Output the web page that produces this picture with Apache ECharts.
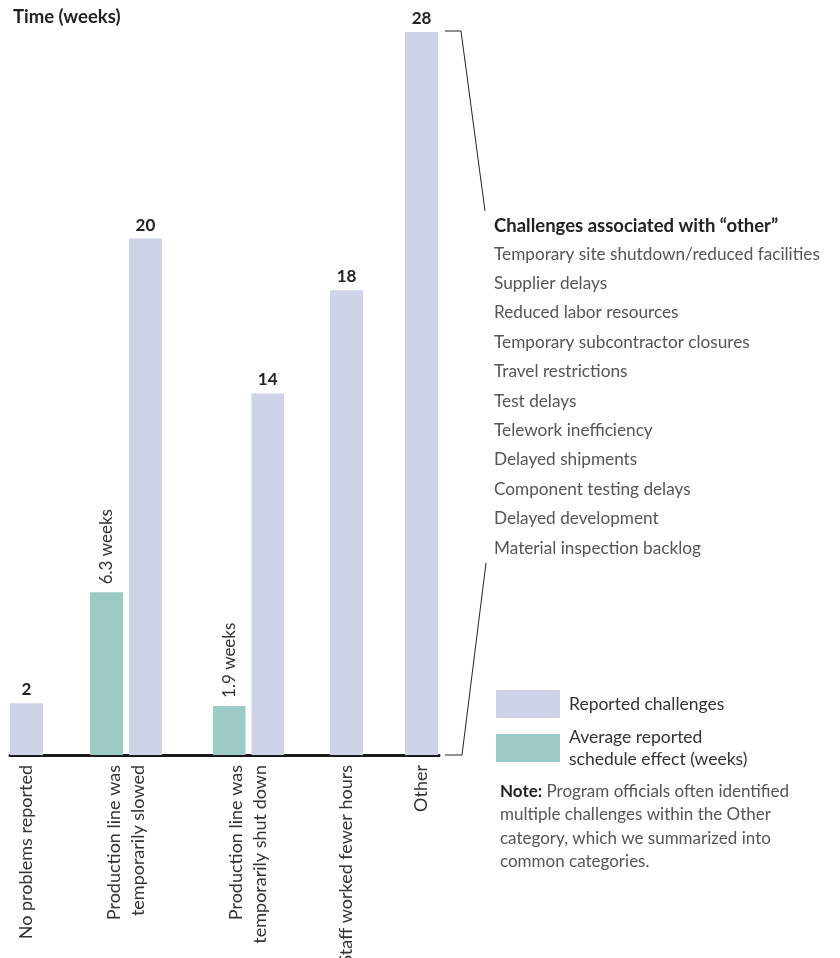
<!DOCTYPE html>
<html>
<head>
<meta charset="utf-8">
<script src="https://cdn.jsdelivr.net/npm/echarts@6/dist/echarts.min.js"></script>
<style>html,body{margin:0;padding:0;background:#fff;}#c{width:840px;height:958px;}</style>
</head>
<body>
<div id="c"></div>
<script>
const categories = ['No problems reported', 'Production line was\ntemporarily slowed', 'Production line was\ntemporarily shut down', 'Staff worked fewer hours', 'Other'];
const reported = [2, 20, 14, 18, 28];
const avgEffect = [null, 6.3, 1.9, null, null];
const seriesNames = ['Reported challenges', 'Average reported\nschedule effect (weeks)'];
const otherTitle = 'Challenges associated with \u201cother\u201d';
const otherChallenges = ['Temporary site shutdown/reduced facilities', 'Supplier delays', 'Reduced labor resources', 'Temporary subcontractor closures', 'Travel restrictions', 'Test delays', 'Telework inefficiency', 'Delayed shipments', 'Component testing delays', 'Delayed development', 'Material inspection backlog'];
const noteLines = ['Program officials often identified', 'multiple challenges within the Other', 'category, which we summarized into', 'common categories.'];
const yMax = 28;

const FONT = 'Lato';
const LAV = '#CED3E7';
const TEAL = '#9CCBC6';
const gridLayout = [
  {left: 10, width: 33},
  {left: 90, width: 72},
  {left: 213, width: 71},
  {left: 330, width: 33},
  {left: 405, width: 33}
];
const TOP = 32, BOTTOM = 203;

const grid = [], xAxis = [], yAxis = [], series = [];
categories.forEach((c, i) => {
  grid.push({left: gridLayout[i].left, width: gridLayout[i].width, top: TOP, bottom: BOTTOM, containLabel: false, outerBoundsMode: 'none'});
  xAxis.push({gridIndex: i, type: 'category', data: [c], axisLine: {show: false}, axisTick: {show: false},
    axisLabel: {rotate: 90, margin: 10, fontFamily: FONT, fontSize: 18, color: '#333', lineHeight: 24}});
  yAxis.push({gridIndex: i, type: 'value', min: 0, max: yMax, show: false});
  if (avgEffect[i] != null) {
    series.push({type: 'bar', name: seriesNames[1], xAxisIndex: i, yAxisIndex: i, data: [avgEffect[i]],
      barWidth: 33, barGap: '18%', itemStyle: {color: TEAL}, silent: true,
      label: {show: true, position: 'top', rotate: 90, align: 'left', verticalAlign: 'middle', distance: 8,
        formatter: p => p.value + ' weeks', fontFamily: FONT, fontSize: 17, color: '#333'}});
  }
  series.push({type: 'bar', name: seriesNames[0], xAxisIndex: i, yAxisIndex: i, data: [reported[i]],
    barWidth: 33, barGap: '18%', itemStyle: {color: LAV}, silent: true,
    label: {show: true, position: 'top', distance: 5, fontFamily: FONT, fontSize: 17, fontWeight: 'bold', color: '#222'}});
});
// baseline axis
grid.push({left: 10, width: 429, top: TOP, bottom: BOTTOM, containLabel: false, outerBoundsMode: 'none'});
xAxis.push({gridIndex: 5, type: 'category', data: [''], axisLine: {show: true, lineStyle: {color: '#1a1a1a', width: 3}}, axisTick: {show: false}, axisLabel: {show: false}});
yAxis.push({gridIndex: 5, type: 'value', min: 0, max: yMax, show: false});

const chart = echarts.init(document.getElementById('c'), null, {renderer: 'canvas'});
chart.setOption({
  animation: false,
  backgroundColor: '#fff',
  title: {text: 'Time (weeks)', left: 13, top: 8, padding: 0, textStyle: {fontFamily: FONT, fontSize: 18.5, fontWeight: 'bold', color: '#222'}},
  legend: {orient: 'vertical', left: 496, top: 690, padding: 0, itemWidth: 64, itemHeight: 28, itemGap: 8, icon: 'rect',
    data: [seriesNames[0], seriesNames[1]], selectedMode: false,
    textStyle: {fontFamily: FONT, fontSize: 17.5, color: '#333', lineHeight: 22, padding: [0, 0, 0, 4]}},
  grid, xAxis, yAxis, series
});

const pTop = chart.convertToPixel({xAxisIndex: 4, yAxisIndex: 4}, [0, yMax]);
const pBot = chart.convertToPixel({xAxisIndex: 4, yAxisIndex: 4}, [0, 0]);
const yT = Math.round(pTop[1]) - 1, yB = Math.round(pBot[1]);
const lh = 29.4;
const graphic = [
  {type: 'polyline', shape: {points: [[445, yT], [461, yT], [485, 211]]}, style: {stroke: '#222', lineWidth: 1, fill: null}},
  {type: 'polyline', shape: {points: [[445, yB], [462, yB], [486, 563]]}, style: {stroke: '#222', lineWidth: 1, fill: null}},
  {type: 'text', left: 494, top: 215, style: {text: otherTitle, fontFamily: FONT, fontSize: 18.5, lineHeight: 22, fontWeight: 'bold', fill: '#222'}},
  {type: 'text', left: 494, top: 254 - lh / 2, style: {text: otherChallenges.join('\n'), fontFamily: FONT, fontSize: 17.2, lineHeight: lh, fill: '#555'}},
  {type: 'text', left: 500, top: 780, style: {
    text: '{b|Note:} ' + noteLines.join('\n'),
    rich: {b: {fontFamily: FONT, fontSize: 17, fontWeight: 'bold', fill: '#222', lineHeight: 23.3}},
    fontFamily: FONT, fontSize: 17, lineHeight: 23.3, fill: '#555'}}
];
chart.setOption({graphic});
</script>
</body>
</html>
